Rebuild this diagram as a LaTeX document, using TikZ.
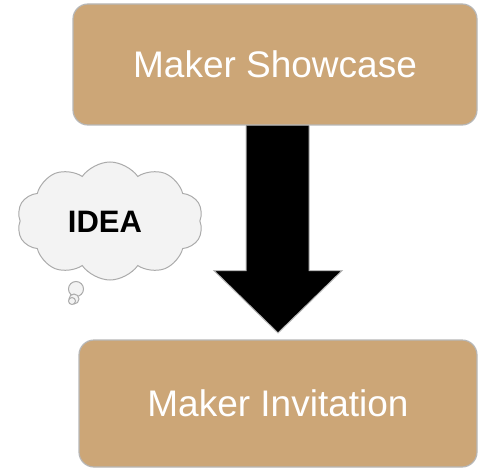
\documentclass[tikz,border=0pt]{standalone}
\usepackage{fontspec}
\setmainfont{Liberation Sans}
\usetikzlibrary{shapes.symbols,calc}
\definecolor{tan}{HTML}{CCA677}
\definecolor{edge}{HTML}{B7B7B7}
\definecolor{cloudfill}{HTML}{F3F3F3}
\definecolor{cloudedge}{HTML}{ABABAB}
\tikzset{
  box/.style={draw=edge, line width=1.2pt, fill=tan, rounded corners=15pt, text=white, font=\fontsize{37}{40}\selectfont},
  bigarrow/.style={draw=edge, line width=1pt, fill=black},
  thought/.style={draw=cloudedge, line width=1pt, fill=cloudfill},
}
\begin{document}
\begin{tikzpicture}[x=1pt,y=1pt]
\useasboundingbox (0,0) rectangle (478,469);
\node[box, minimum width=404pt, minimum height=121pt] (top) at (275,404.5) {Maker Showcase};
\node[box, minimum width=398pt, minimum height=127pt] (bot) at (278,65.5) {Maker Invitation};
\coordinate (tip) at (278,136);
\draw[bigarrow] ($(top.south)+(-29,0)$) -- ($(top.south)+(-29,-145)$) -- ($(top.south)+(-61,-145)$) -- (tip) -- ($(top.south)+(67,-145)$) -- ($(top.south)+(34,-145)$) -- ($(top.south)+(34,0)$);
\draw[thought] (76,180) circle (7.5);
\draw[thought] (74,170) circle (5);
\draw[thought] (72,168) circle (3.5);
\node[thought, cloud, cloud puffs=10, cloud puff arc=110, aspect=1.6, minimum width=186pt, minimum height=118pt] (cloud) at (110,248) {};
\node[font=\bfseries\fontsize{31}{33}\selectfont] (idea) at (105,247) {IDEA};
\end{tikzpicture}
\end{document}
